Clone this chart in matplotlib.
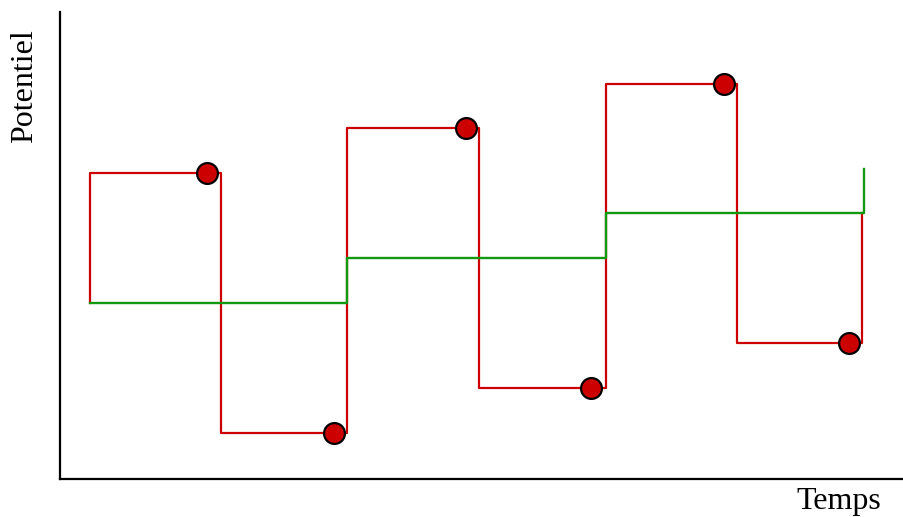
import matplotlib.pyplot as plt

# data (time, potential)
red_t = [90, 90, 221, 347, 479, 606, 737, 862]
red_v = [214, 344, 84, 389, 129, 433, 174, 304]

green_t = [90, 347, 606, 864]
green_v = [214, 259, 304, 348]

dot_t = [207, 334, 466, 591, 724, 849]
dot_v = [344, 84, 389, 129, 433, 174]

plt.rcParams['font.family'] = ['Liberation Serif', 'DejaVu Serif']

fig = plt.figure(figsize=(9.04, 5.17), dpi=100)
ax = fig.add_axes([59.5 / 904, 38 / 517, 1 - 59.5 / 904, 467 / 517])

ax.plot(red_t, red_v, drawstyle='steps-post', color='#cc0000', lw=1.6)
ax.plot(green_t, green_v, drawstyle='steps-post', color='#119911', lw=1.7)
ax.plot(dot_t, dot_v, 'o', color='#cc0000', markersize=15,
        markeredgecolor='black', markeredgewidth=1.6, zorder=5)

ax.set_xlim(59.5, 904)
ax.set_ylim(38, 505)
ax.set_xticks([])
ax.set_yticks([])
ax.spines['top'].set_visible(False)
ax.spines['right'].set_visible(False)
ax.spines['left'].set_linewidth(1.6)
ax.spines['bottom'].set_linewidth(1.6)

fig.text(25 / 904, 1 - 86 / 517, 'Potentiel', rotation=90, fontsize=23,
         ha='center', va='center')
fig.text(839 / 904, 1 - 502 / 517, 'Temps', fontsize=23, ha='center', va='center')

fig.savefig('out.png', dpi=100)
